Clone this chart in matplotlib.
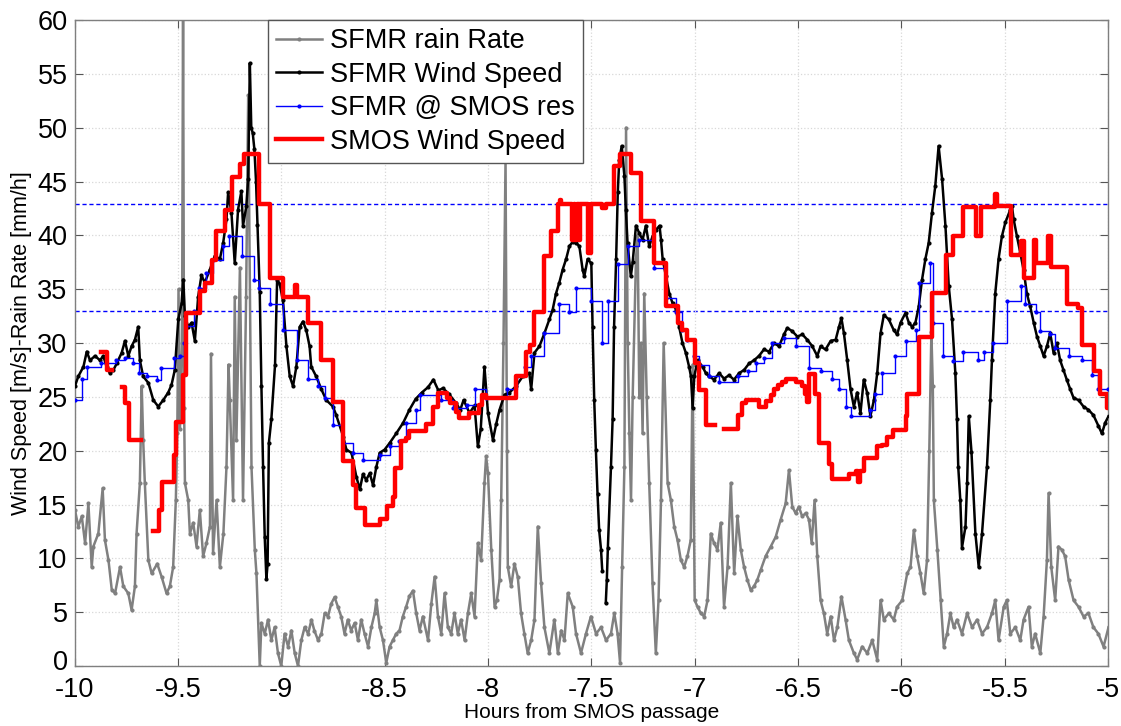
#!/usr/bin/env python3

import numpy as np
import matplotlib
matplotlib.use("Agg")
import matplotlib.pyplot as plt
import matplotlib.transforms as mtransforms

nan = np.nan

# SFMR rain rate [mm/h] (gray)
rain_hours = [
    -9.998, -9.982, -9.965, -9.949, -9.933, -9.917, -9.909, -9.885, -9.864, -9.853,
    -9.836, -9.82, -9.804, -9.78, -9.764, -9.74, -9.724, -9.708, -9.70, -9.684,
    -9.675, -9.668, -9.66, -9.643, -9.627, -9.60, -9.579, -9.555, -9.539, -9.523,
    -9.51, -9.503, -9.497, -9.49, -9.48, -9.475, -9.47, -9.466, -9.45, -9.442,
    -9.426, -9.41, -9.394, -9.378, -9.362, -9.345, -9.34, -9.33, -9.313, -9.297,
    -9.28, -9.265, -9.255, -9.249, -9.233, -9.225, -9.217, -9.2, -9.185, -9.17,
    -9.16, -9.144, -9.128, -9.12, -9.104, -9.096, -9.08, -9.064, -9.048, -9.032,
    -9.016, -9.0, -8.984, -8.967, -8.951, -8.935, -8.919, -8.903, -8.887, -8.87,
    -8.854, -8.84, -8.822, -8.806, -8.79, -8.774, -8.758, -8.742, -8.726, -8.71,
    -8.694, -8.678, -8.662, -8.645, -8.629, -8.613, -8.597, -8.58, -8.564, -8.548,
    -8.54, -8.524, -8.508, -8.492, -8.476, -8.46, -8.444, -8.428, -8.412, -8.396,
    -8.38, -8.363, -8.347, -8.331, -8.315, -8.29, -8.274, -8.258, -8.242, -8.226,
    -8.21, -8.194, -8.178, -8.162, -8.146, -8.13, -8.113, -8.097, -8.081, -8.065,
    -8.049, -8.033, -8.017, -8.009, -8.0, -7.984, -7.968, -7.957, -7.944, -7.936,
    -7.925, -7.915, -7.908, -7.904, -7.888, -7.872, -7.856, -7.84, -7.824, -7.808,
    -7.791, -7.775, -7.759, -7.743, -7.727, -7.703, -7.679, -7.662, -7.646, -7.63,
    -7.614, -7.59, -7.574, -7.55, -7.526, -7.502, -7.477, -7.453, -7.429, -7.405,
    -7.389, -7.373, -7.361, -7.351, -7.34, -7.332, -7.324, -7.316, -7.308, -7.30,
    -7.284, -7.276, -7.268, -7.26, -7.252, -7.244, -7.232, -7.22, -7.204, -7.188,
    -7.175, -7.163, -7.15, -7.131, -7.115, -7.099, -7.083, -7.067, -7.051, -7.035,
    -7.019, -7.01, -7.0, -6.986, -6.97, -6.954, -6.938, -6.922, -6.906, -6.89,
    -6.874, -6.858, -6.841, -6.825, -6.809, -6.793, -6.777, -6.761, -6.745, -6.729,
    -6.713, -6.697, -6.681, -6.657, -6.632, -6.608, -6.584, -6.56, -6.544, -6.528,
    -6.512, -6.496, -6.48, -6.463, -6.447, -6.434, -6.42, -6.407, -6.391, -6.375,
    -6.359, -6.342, -6.326, -6.31, -6.29, -6.27, -6.254, -6.23, -6.214, -6.19,
    -6.165, -6.141, -6.117, -6.101, -6.085, -6.061, -6.037, -6.021, -5.996, -5.972,
    -5.956, -5.94, -5.924, -5.908, -5.892, -5.876, -5.865, -5.855, -5.848, -5.843,
    -5.826, -5.81, -5.795, -5.779, -5.763, -5.747, -5.731, -5.707, -5.682, -5.658,
    -5.634, -5.61, -5.586, -5.562, -5.546, -5.53, -5.505, -5.49, -5.473, -5.449,
    -5.425, -5.409, -5.385, -5.369, -5.353, -5.328, -5.312, -5.296, -5.288, -5.275,
    -5.256, -5.24, -5.224, -5.208, -5.191, -5.167, -5.143, -5.119, -5.095, -5.071,
    -5.047, -5.022, -4.998,
]
rain_rate = [
    14.5, 12.95, 13.9, 11.4, 15.1, 9.2, 11.1, 12.3, 16.5, 11.7,
    9.85, 7.1, 6.75, 9.2, 7.4, 6.75, 5.2, 7.4, 12.3, 17.0,
    26.0, 21.0, 17.0, 9.85, 8.6, 9.5, 8.3, 6.75, 7.4, 9.2,
    15.4, 21.6, 35.0, 22.0, 30.0, 62.0, 24.0, 17.0, 15.4, 12.3,
    13.3, 11.1, 14.5, 10.2, 11.4, 12.95, 29.0, 10.5, 15.4, 9.2,
    12.3, 18.5, 28.0, 24.7, 15.4, 34.3, 21.0, 37.0, 15.4, 34.3,
    53.0, 18.5, 10.8, 8.6, 0.0, 4.0, 3.0, 4.3, 2.4, 3.6,
    1.2, 0.0, 3.0, 1.8, 3.3, 1.2, 0.0, 2.4, 3.6, 3.0,
    4.3, 3.3, 2.4, 3.0, 4.9, 4.6, 5.8, 6.4, 5.5, 4.6,
    3.0, 4.3, 3.3, 4.0, 2.4, 4.3, 3.0, 1.8, 3.6, 4.9,
    6.1, 3.6, 2.4, 0.3, 1.8, 2.4, 3.0, 3.3, 4.6, 5.5,
    6.5, 7.0, 4.9, 3.3, 4.6, 2.4, 5.8, 8.3, 4.6, 3.0,
    6.75, 3.6, 3.0, 4.9, 3.0, 4.3, 2.4, 4.9, 6.75, 4.6,
    11.4, 9.85, 17.0, 19.5, 17.9, 10.8, 5.5, 6.1, 8.0, 15.4,
    30.0, 47.0, 20.0, 9.2, 7.4, 9.5, 8.3, 4.9, 3.0, 1.2,
    2.4, 4.3, 12.95, 7.7, 3.6, 1.2, 4.3, 1.2, 3.3, 2.4,
    6.75, 5.5, 3.0, 1.2, 3.0, 4.6, 3.0, 3.6, 2.4, 3.0,
    4.9, 3.0, 0.3, 9.2, 18.5, 50.0, 30.0, 21.6, 15.4, 25.0,
    37.8, 40.0, 25.0, 30.0, 21.6, 34.6, 25.0, 17.0, 7.7, 1.2,
    6.1, 15.4, 30.0, 17.0, 15.4, 12.95, 11.7, 9.85, 9.2, 10.2,
    11.7, 28.0, 6.1, 5.5, 4.9, 4.6, 6.1, 12.3, 11.4, 10.8,
    13.3, 5.5, 9.2, 17.0, 8.6, 13.9, 10.8, 9.2, 8.0, 7.06,
    7.4, 8.0, 8.9, 10.2, 11.1, 12.0, 13.6, 15.1, 18.2, 14.8,
    14.2, 14.8, 13.9, 14.2, 13.6, 11.4, 15.4, 10.2, 6.1, 4.9,
    3.0, 4.6, 2.4, 3.6, 6.45, 4.3, 2.4, 1.2, 0.6, 1.8,
    1.2, 2.4, 0.6, 6.1, 4.3, 4.9, 4.3, 5.5, 6.1, 8.6,
    9.2, 12.6, 10.2, 8.6, 6.75, 9.85, 20.0, 31.0, 26.0, 15.4,
    10.8, 6.1, 1.8, 3.0, 4.9, 3.6, 4.3, 3.0, 4.9, 3.6,
    4.3, 3.0, 3.6, 4.9, 6.1, 2.4, 5.5, 6.1, 3.0, 3.6,
    2.4, 4.3, 5.5, 1.8, 3.0, 1.2, 4.6, 9.85, 16.05, 9.2,
    6.1, 11.1, 10.8, 10.2, 8.0, 6.1, 5.5, 4.6, 4.9, 3.6,
    3.0, 1.8, 3.6,
]

# SFMR wind speed [m/s] (black)
wind_hours = [
    -9.998, -9.982, -9.957, -9.941, -9.925, -9.901, -9.877, -9.861, -9.845, -9.829,
    -9.812, -9.796, -9.772, -9.756, -9.740, -9.724, -9.708, -9.692, -9.684, -9.668,
    -9.643, -9.619, -9.595, -9.571, -9.547, -9.531, -9.515, -9.498, -9.482, -9.474,
    -9.466, -9.450, -9.434, -9.418, -9.402, -9.386, -9.370, -9.346, -9.321, -9.297,
    -9.281, -9.265, -9.257, -9.241, -9.225, -9.209, -9.193, -9.185, -9.169, -9.160,
    -9.152, -9.145, -9.138, -9.130, -9.122, -9.115, -9.104, -9.096, -9.088, -9.080,
    -9.072, -9.066, -9.060, -9.048, -9.030, -9.020, -9.008, -8.992, -8.975, -8.959,
    -8.943, -8.927, -8.911, -8.895, -8.879, -8.863, -8.855, -8.831, -8.806, -8.782,
    -8.750, -8.734, -8.700, -8.685, -8.660, -8.637, -8.620, -8.605, -8.589, -8.572,
    -8.556, -8.540, -8.524, -8.500, -8.476, -8.444, -8.410, -8.380, -8.350, -8.320,
    -8.290, -8.264, -8.240, -8.218, -8.190, -8.154, -8.134, -8.118, -8.089, -8.065,
    -8.049, -8.035, -8.017, -8.000, -7.976, -7.960, -7.944, -7.920, -7.896, -7.864,
    -7.832, -7.800, -7.791, -7.775, -7.751, -7.727, -7.703, -7.687, -7.671, -7.655,
    -7.639, -7.622, -7.606, -7.590, -7.574, -7.558, -7.542, -7.534, -7.518, -7.500,
    -7.494, -7.486, -7.478, -7.470, -7.462, -7.453, -7.447, -7.438, -7.430, -7.425,
    -7.420, -7.405, -7.397, -7.390, -7.380, -7.372, -7.365, -7.353, -7.340, -7.333,
    -7.325, -7.309, -7.300, -7.284, -7.268, -7.252, -7.236, -7.220, -7.204, -7.188,
    -7.170, -7.163, -7.155, -7.139, -7.123, -7.107, -7.090, -7.075, -7.059, -7.043,
    -7.027, -7.018, -7.010, -7.002, -6.986, -6.962, -6.946, -6.930, -6.906, -6.882,
    -6.858, -6.834, -6.810, -6.785, -6.761, -6.737, -6.713, -6.689, -6.665, -6.640,
    -6.616, -6.592, -6.568, -6.552, -6.528, -6.503, -6.479, -6.455, -6.431, -6.407,
    -6.391, -6.367, -6.342, -6.318, -6.302, -6.290, -6.278, -6.262, -6.246, -6.230,
    -6.214, -6.198, -6.182, -6.166, -6.150, -6.133, -6.117, -6.101, -6.085, -6.061,
    -6.037, -6.021, -6.004, -5.980, -5.964, -5.948, -5.932, -5.916, -5.900, -5.884,
    -5.868, -5.852, -5.836, -5.820, -5.803, -5.787, -5.771, -5.755, -5.739, -5.731,
    -5.725, -5.715, -5.707, -5.690, -5.682, -5.674, -5.661, -5.642, -5.626, -5.610,
    -5.586, -5.570, -5.562, -5.546, -5.530, -5.514, -5.497, -5.473, -5.465, -5.457,
    -5.441, -5.425, -5.409, -5.393, -5.377, -5.360, -5.344, -5.328, -5.312, -5.296,
    -5.280, -5.264, -5.248, -5.232, -5.216, -5.200, -5.183, -5.167, -5.143, -5.119,
    -5.095, -5.071, -5.047, -5.030, -5.014, -4.998,
]
wind_speed = [
    26.0, 26.9, 27.8, 29.2, 28.4, 28.8, 28.4, 28.8, 27.8, 27.2,
    27.5, 28.1, 29.1, 30.2, 28.8, 29.7, 30.3, 31.5, 28.4, 26.9,
    26.3, 24.7, 24.1, 24.7, 25.4, 26.1, 27.5, 32.2, 33.7, 35.9,
    32.5, 31.5, 31.9, 30.2, 34.3, 36.3, 35.6, 36.8, 38.1, 37.8,
    39.3, 41.5, 44.0, 42.1, 37.4, 42.4, 44.1, 40.9, 42.7, 45.2,
    56.0, 50.0, 49.5, 48.0, 45.0, 41.0, 34.7, 26.0, 18.5, 12.0,
    8.1, 9.5, 20.7, 22.9, 28.0, 35.9, 35.5, 34.0, 29.7, 26.9,
    26.0, 27.8, 31.5, 32.0, 31.2, 29.7, 27.8, 26.9, 25.7, 24.7,
    24.1, 23.3, 21.3, 20.1, 19.8, 17.6, 16.4, 17.8, 17.3, 17.9,
    16.8, 18.5, 19.8, 20.1, 20.7, 21.6, 22.6, 23.8, 24.8, 25.4,
    25.9, 26.6, 25.6, 25.8, 25.3, 24.4, 23.8, 24.7, 23.5, 24.2,
    20.4, 22.0, 27.8, 23.5, 21.0, 22.5, 23.8, 25.2, 25.4, 26.0,
    26.9, 27.2, 25.7, 29.1, 29.7, 30.9, 32.2, 33.1, 34.6, 35.6,
    36.8, 37.8, 39.0, 39.4, 39.3, 39.0, 36.8, 36.2, 37.8, 37.4,
    31.5, 24.7, 20.1, 16.0, 12.6, 10.8, 8.8, nan, 5.9, 8.0,
    11.0, 18.5, 22.9, 31.5, 37.8, 44.0, 47.0, 48.3, 45.5, 42.4,
    39.3, 36.2, 37.5, 40.9, 40.2, 39.6, 40.9, 39.0, 39.9, 40.5,
    40.9, 39.6, 37.8, 36.2, 34.6, 33.7, 33.1, 31.5, 30.0, 29.1,
    27.8, 26.9, 24.0, 26.9, 28.4, 27.8, 27.2, 26.9, 26.6, 27.2,
    26.7, 27.0, 26.6, 27.2, 27.5, 28.1, 28.4, 28.8, 29.4, 29.2,
    30.0, 29.7, 30.8, 31.4, 31.1, 30.6, 30.8, 30.3, 29.7, 28.8,
    29.7, 29.4, 30.2, 30.3, 31.5, 32.3, 30.9, 28.4, 25.7, 24.1,
    25.4, 23.5, 26.6, 25.4, 23.2, 24.7, 27.2, 30.9, 32.6, 32.2,
    31.2, 30.8, 31.9, 32.8, 31.9, 31.5, 31.9, 33.4, 35.9, 37.8,
    39.3, 42.1, 44.6, 48.3, 45.2, 40.9, 35.3, 32.2, 27.2, 22.9,
    18.5, 15.4, 11.0, 12.95, 17.0, 23.2, 19.9, 12.3, 9.2, 12.3,
    18.5, 24.7, 28.4, 34.6, 37.8, 39.9, 41.2, 42.4, 42.7, 41.5,
    39.9, 38.4, 36.8, 34.6, 33.4, 31.9, 30.6, 29.7, 28.8, 29.7,
    30.9, 29.1, 30.0, 28.4, 27.5, 26.6, 25.7, 24.9, 24.7, 24.1,
    23.8, 23.3, 22.3, 21.6, 22.6, 23.2,
]

# SFMR averaged at SMOS resolution (blue, stepwise)
sfmr_res_hours = [
    -10.0, -9.965, -9.94, -9.87, -9.80, -9.755, -9.716, -9.69, -9.65, -9.60,
    -9.58, -9.52, -9.49, -9.47, -9.46, -9.42, -9.40, -9.365, -9.33, -9.28,
    -9.255, -9.19, -9.13, -9.11, -9.056, -8.99, -8.925, -8.87, -8.82, -8.79,
    -8.75, -8.70, -8.653, -8.605, -8.524, -8.476, -8.428, -8.396, -8.35, -8.33,
    -8.226, -8.17, -8.10, -8.065, -8.01, -7.91, -7.86, -7.82, -7.79, -7.727,
    -7.655, -7.606, -7.574, -7.50, -7.45, -7.42, -7.37, -7.325, -7.27, -7.196,
    -7.14, -7.09, -7.059, -7.035, -7.003, -6.98, -6.93, -6.88, -6.79, -6.74,
    -6.705, -6.665, -6.625, -6.57, -6.51, -6.447, -6.39, -6.335, -6.30, -6.27,
    -6.246, -6.15, -6.13, -6.093, -6.03, -5.98, -5.93, -5.915, -5.86, -5.846,
    -5.80, -5.75, -5.70, -5.63, -5.60, -5.555, -5.49, -5.42, -5.40, -5.35,
    -5.33, -5.28, -5.255, -5.19, -5.127, -5.08, -5.05, -5.0,
]
sfmr_res_speed = [
    24.7, 26.7, 27.8, 28.1, 28.4, 28.6, 28.1, 27.2, 26.9, 26.6,
    27.7, 28.6, 28.8, 30.0, 31.55, 32.95, 35.1, 36.5, 37.75, 39.0,
    39.9, 38.1, 35.9, 35.1, 33.6, 31.2, 28.45, 26.7, 26.0, 24.9,
    22.4, 20.7, 19.8, 19.1, 19.6, 20.4, 20.9, 22.6, 23.8, 25.2,
    24.7, 23.95, 24.2, 25.7, 24.9, 25.7, 26.9, 27.8, 28.8, 30.9,
    33.6, 32.9, 35.1, 33.9, 30.0, 33.9, 37.3, 39.0, 39.6, 37.0,
    34.2, 32.9, 31.2, 30.3, 28.8, 28.0, 26.9, 26.4, 26.9, 27.4,
    28.1, 28.6, 30.0, 30.5, 29.7, 27.7, 27.4, 26.7, 25.7, 24.1,
    23.2, 23.8, 25.3, 27.2, 28.8, 30.2, 31.2, 35.6, 37.4, 31.9,
    28.8, 28.3, 29.2, 28.45, 29.2, 30.0, 33.9, 35.3, 33.6, 32.9,
    31.1, 30.8, 29.5, 28.8, 28.45, 27.05, 25.7, 25.7,
]

# SMOS wind speed [m/s] (red, stepwise, gaps as nan)
smos_hours = [
    -9.87, -9.845, -9.82, -9.77, -9.755, -9.735, -9.68, -9.62, -9.59, -9.575,
    -9.52, -9.51, -9.475, -9.46, -9.394, -9.37, -9.335, -9.315, -9.27, -9.24,
    -9.20, -9.18, -9.11, -9.056, -8.99, -8.935, -8.925, -8.87, -8.81, -8.75,
    -8.70, -8.653, -8.637, -8.597, -8.52, -8.49, -8.46, -8.452, -8.42, -8.396,
    -8.38, -8.30, -8.265, -8.24, -8.20, -8.185, -8.155, -8.14, -8.09, -8.045,
    -8.03, -8.01, -7.865, -7.815, -7.795, -7.775, -7.727, -7.695, -7.66, -7.652,
    -7.645, -7.595, -7.585, -7.578, -7.57, -7.562, -7.555, -7.515, -7.50, -7.45,
    -7.43, -7.39, -7.36, -7.31, -7.26, -7.195, -7.14, -7.083, -7.06, -7.035,
    -7.0, -6.98, -6.946, -6.90, -6.857, -6.79, -6.77, -6.75, -6.69, -6.655,
    -6.63, -6.615, -6.595, -6.58, -6.56, -6.51, -6.48, -6.465, -6.455, -6.447,
    -6.42, -6.40, -6.35, -6.335, -6.254, -6.22, -6.21, -6.20, -6.18, -6.12,
    -6.095, -6.07, -6.04, -5.98, -5.975, -5.915, -5.85, -5.786, -5.75, -5.70,
    -5.64, -5.615, -5.548, -5.538, -5.47, -5.42, -5.405, -5.36, -5.35, -5.29,
    -5.275, -5.20, -5.145, -5.127, -5.07, -5.04, -5.005, -5.0,
]
smos_speed = [
    29.2, 27.5, nan, 25.9, 24.4, 21.0, nan, 12.5, 14.5, 17.1,
    19.6, 22.7, 27.0, 32.8, 34.8, 35.6, 37.7, 40.4, 42.4, 45.4,
    46.6, 47.6, 42.9, 36.0, 34.3, 35.4, 34.3, 31.9, 28.4, 24.5,
    19.0, 16.8, 14.7, 13.1, 13.7, 14.9, 15.7, 18.4, 20.9, 21.2,
    21.8, 22.5, 24.1, 25.4, 24.9, 24.4, 23.6, 23.0, 23.5, 24.2,
    25.2, 24.9, 26.9, 29.2, 29.8, 32.9, 38.1, 40.4, 42.9, 43.3,
    42.9, 39.6, 42.9, 39.6, 42.9, 39.6, 42.9, 38.4, 42.9, 42.5,
    42.9, 46.4, 47.6, 45.8, 41.3, 37.4, 33.4, 31.9, 31.2, 30.3,
    28.1, 25.6, 22.4, nan, 22.0, 23.3, 24.4, 24.7, 24.1, 24.6,
    25.2, 25.7, 26.1, 26.4, 26.7, 26.4, 26.0, 25.3, 24.5, 27.1,
    25.3, 20.7, 18.8, 17.4, 17.8, 18.1, 17.1, 18.1, 19.3, 20.4,
    20.5, 21.3, 21.9, 23.2, 25.3, 30.6, 34.65, 38.2, 39.9, 42.6,
    39.9, 42.6, 43.8, 42.7, 38.2, 39.5, 36.0, 39.6, 37.4, 39.9,
    37.1, 33.6, 33.3, 29.8, 27.4, 25.3, 24.0, 24.0,
]

# reference levels (blue dashed)
ref_levels = [42.9, 33.0]

x_ticks = [-10, -9.5, -9, -8.5, -8, -7.5, -7, -6.5, -6, -5.5, -5]
x_tick_labels = ["-10", "-9.5", "-9", "-8.5", "-8", "-7.5", "-7", "-6.5", "-6", "-5.5", "-5"]
y_ticks = list(range(0, 61, 5))


def make_plot(out_file):
    plt.rcParams["font.family"] = ["Liberation Sans", "DejaVu Sans"]
    plt.rcParams["axes.unicode_minus"] = False

    fig = plt.figure(figsize=(11.21, 7.26), dpi=100)
    ax = fig.add_axes([0.0665, 0.0826, 0.922, 0.8898])

    ax.plot(rain_hours, rain_rate, color="#808080", lw=1.8, marker=".",
            ms=4, label="SFMR rain Rate", zorder=2)
    ax.plot(wind_hours, wind_speed, color="black", lw=1.8, marker=".",
            ms=4, label="SFMR Wind Speed", zorder=3)
    ax.plot(sfmr_res_hours, sfmr_res_speed, color="blue", lw=1.0, marker=".",
            ms=4, drawstyle="steps-post", label="SFMR @ SMOS res", zorder=4)
    ax.plot(smos_hours, smos_speed, color="red", lw=3.2,
            drawstyle="steps-post", label="SMOS Wind Speed", zorder=5)

    for level in ref_levels:
        ax.axhline(level, color="blue", lw=1.0, ls=(0, (3, 2)), zorder=1)

    ax.set_xlim(-10, -5)
    ax.set_ylim(0, 60)
    ax.set_xticks(x_ticks)
    ax.set_xticklabels(x_tick_labels)
    ax.set_yticks(y_ticks)
    ax.tick_params(direction="in", length=6, width=0.8, top=True, right=True,
                   labelsize=19.5, colors="#555555", labelcolor="black")
    ax.tick_params(axis="x", pad=8)
    ax.tick_params(axis="y", pad=5)
    ax.grid(True, color="#d8d8d8", ls=":", lw=0.9)
    for spine in ax.spines.values():
        spine.set_color("#7f7f7f")
        spine.set_linewidth(1.0)

    # nudge the "0" label up a little so it clears the "-10" below it
    zero_label = ax.yaxis.get_major_ticks()[0].label1
    zero_label.set_transform(zero_label.get_transform()
                             + mtransforms.ScaledTranslation(0, 4 / 72, fig.dpi_scale_trans))

    ax.set_xlabel("Hours from SMOS passage", fontsize=15, labelpad=0)
    ax.set_ylabel("Wind Speed [m/s]-Rain Rate [mm/h]", fontsize=15.5, labelpad=4)

    leg = ax.legend(loc="upper left", bbox_to_anchor=(0.187, 1.0), borderaxespad=0,
                    fontsize=19.5, handlelength=1.7, handletextpad=0.3,
                    borderpad=0.3, labelspacing=0.28, fancybox=False,
                    framealpha=1, edgecolor="#555555")
    leg.get_frame().set_linewidth(1.0)

    fig.savefig(out_file, dpi=100)
    plt.close(fig)


if __name__ == "__main__":
    make_plot("out.png")
